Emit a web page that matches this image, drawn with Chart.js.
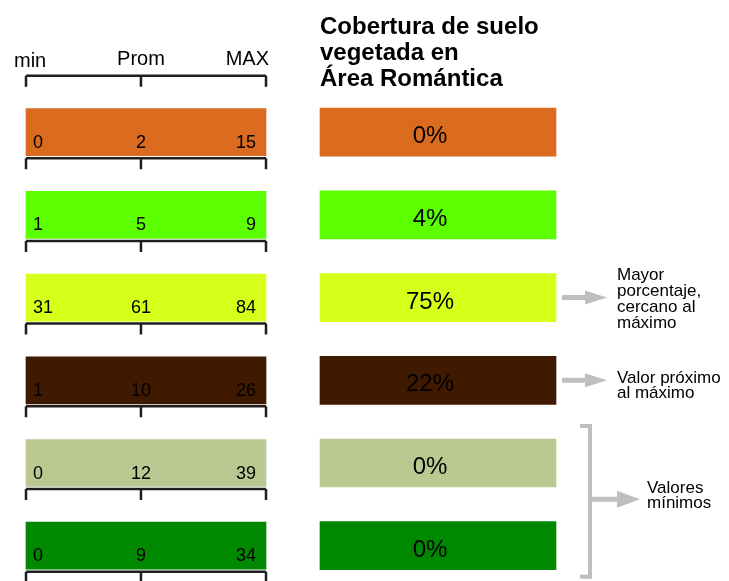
<!DOCTYPE html>
<html>
<head>
<meta charset="utf-8">
<script src="https://cdn.jsdelivr.net/npm/chart.js@4.4.1/dist/chart.umd.min.js"></script>
<style>
  html, body { margin: 0; padding: 0; background: #fff; overflow: hidden; }
  #wrap { position: relative; width: 729px; height: 581px; }
</style>
</head>
<body>
<div id="wrap"><canvas id="chart" width="729" height="581"></canvas></div>
<script>
// one row per land cover class
const rowColors = ['#DB6B1F', '#5CFF00', '#D6FF1A', '#401A00', '#BAC992', '#008800'];
const minVals   = [0, 1, 31, 1, 0, 0];
const promVals  = [2, 5, 61, 10, 12, 9];
const maxVals   = [15, 9, 84, 26, 39, 34];
const coverPct  = [0, 4, 75, 22, 0, 0];

const headLabels = ['min', 'Prom', 'MAX'];
const titleLines = ['Cobertura de suelo', 'vegetada en', 'Área Romántica'];

const notes = [
  { rows: [2], lines: ['Mayor', 'porcentaje,', 'cercano al', 'máximo'] },
  { rows: [3], lines: ['Valor próximo', 'al máximo'] },
  { rows: [4, 5], lines: ['Valores', 'mínimos'] }
];

// layout
const W = 729, H = 581;
const FONT = "'Liberation Sans', Arial, Helvetica, sans-serif";
const RANGE_PX = [26, 266];   // span of the min..MAX bars
const PCT_PX = [320, 556];    // span of the percentage boxes
const ROW0 = 132.2, STEP = 82.7;
const PROM_AT = 0.479;        // Prom tick, fraction of the bar
const PCT_TEXT_AT = 0.466;
const NOTE_SHIFT = [0, 4, -5];
const GREY = '#BFBFBF';
const INK = '#1E1E1E';

function spanScale(px) {
  const w = px[1] - px[0];
  return { type: 'linear', display: false, offset: false, min: -px[0] / w, max: (W - px[0]) / w };
}

function bracket(ctx, xs, yLine, tick) {
  ctx.beginPath();
  ctx.moveTo(xs[0], yLine);
  ctx.lineTo(xs[xs.length - 1], yLine);
  xs.forEach(x => { ctx.moveTo(x, yLine); ctx.lineTo(x, yLine + tick); });
  ctx.stroke();
}

function arrow(ctx, xa, xb, yc, head, half, shaft) {
  ctx.beginPath();
  ctx.moveTo(xa, yc - shaft / 2);
  ctx.lineTo(xb - head, yc - shaft / 2);
  ctx.lineTo(xb - head, yc - half);
  ctx.lineTo(xb, yc);
  ctx.lineTo(xb - head, yc + half);
  ctx.lineTo(xb - head, yc + shaft / 2);
  ctx.lineTo(xa, yc + shaft / 2);
  ctx.closePath();
  ctx.fill();
}

const labelsPlugin = {
  id: 'rangeLabels',
  afterDatasetsDraw(chart) {
    const ctx = chart.ctx;
    const xr = chart.scales.xr, xp = chart.scales.xp, ys = chart.scales.y;
    const x0 = xr.getPixelForValue(0), xm = xr.getPixelForValue(PROM_AT), x1 = xr.getPixelForValue(1);
    const pL = xp.getPixelForValue(0), pR = xp.getPixelForValue(1);
    const bars = chart.getDatasetMeta(0).data;
    const boxes = chart.getDatasetMeta(1).data;
    const top0 = bars[0].y - bars[0].height / 2;

    ctx.save();
    ctx.fillStyle = '#000';
    ctx.textBaseline = 'alphabetic';

    // title
    ctx.font = `bold 24px ${FONT}`;
    ctx.textAlign = 'left';
    titleLines.forEach((t, k) => ctx.fillText(t, pL, 34 + k * 26));

    // header of the range column
    ctx.font = `20px ${FONT}`;
    ctx.textAlign = 'left';
    ctx.fillText(headLabels[0], x0 - 12, top0 - 42);
    ctx.textAlign = 'center';
    ctx.fillText(headLabels[1], xm, top0 - 44);
    ctx.textAlign = 'right';
    ctx.fillText(headLabels[2], x1 + 3, top0 - 44);

    ctx.strokeStyle = INK;
    ctx.lineWidth = 2.5;
    ctx.lineCap = 'butt';
    bracket(ctx, [x0, xm, x1], top0 - 33, 11);

    // min / Prom / MAX inside each bar
    bars.forEach((bar, i) => {
      const bottom = bar.y + bar.height / 2;
      bracket(ctx, [x0, xm, x1], bottom + 2.5, 11);
      ctx.font = `18px ${FONT}`;
      ctx.textAlign = 'left';
      ctx.fillText(String(minVals[i]), x0 + 7, bottom - 8);
      ctx.textAlign = 'center';
      ctx.fillText(String(promVals[i]), xm, bottom - 8);
      ctx.textAlign = 'right';
      ctx.fillText(String(maxVals[i]), x1 - 10, bottom - 8);
    });

    // percentage in each box
    ctx.font = `24px ${FONT}`;
    ctx.textAlign = 'center';
    boxes.forEach((box, i) => {
      ctx.fillText(coverPct[i] + '%', xp.getPixelForValue(PCT_TEXT_AT), box.y + 11);
    });

    // side notes
    ctx.fillStyle = GREY;
    ctx.strokeStyle = GREY;
    notes.forEach((note, n) => {
      let yc, tx;
      if (note.rows.length === 1) {
        yc = ys.getPixelForValue(note.rows[0]);
        arrow(ctx, pR + 6, pR + 51, yc, 22, 7, 5);
        tx = pR + 61;
      } else {
        const a = boxes[note.rows[0]], b = boxes[note.rows[note.rows.length - 1]];
        const yt = a.y - a.height / 2 - 13, yb = b.y + b.height / 2 + 7;
        const bx = pR + 34;
        ctx.lineWidth = 4;
        ctx.lineJoin = 'miter';
        ctx.beginPath();
        ctx.moveTo(bx - 10, yt);
        ctx.lineTo(bx, yt);
        ctx.lineTo(bx, yb);
        ctx.lineTo(bx - 10, yb);
        ctx.stroke();
        yc = (yt + yb) / 2 - 2;
        arrow(ctx, bx + 2, bx + 50, yc, 23, 8.5, 5);
        tx = bx + 57;
      }
      const lh = note.lines.length > 2 ? 16 : 15;
      ctx.save();
      ctx.fillStyle = '#000';
      ctx.font = `17px ${FONT}`;
      ctx.textAlign = 'left';
      const first = yc - (note.lines.length - 1) * lh / 2 + 6 + NOTE_SHIFT[n];
      note.lines.forEach((t, k) => ctx.fillText(t, tx, first + k * lh));
      ctx.restore();
    });
    ctx.restore();
  }
};

new Chart(document.getElementById('chart'), {
  type: 'bar',
  data: {
    datasets: [
      {
        label: 'rango',
        xAxisID: 'xr',
        yAxisID: 'y',
        data: minVals.map((_, i) => ({ x: [0, 1], y: i })),
        backgroundColor: rowColors,
        barThickness: 47,
        grouped: false,
        borderWidth: 0
      },
      {
        label: 'cobertura',
        xAxisID: 'xp',
        yAxisID: 'y',
        data: coverPct.map((_, i) => ({ x: [0, 1], y: i })),
        backgroundColor: rowColors,
        barThickness: 48,
        grouped: false,
        borderWidth: 0
      }
    ]
  },
  options: {
    indexAxis: 'y',
    responsive: false,
    animation: false,
    devicePixelRatio: 1,
    layout: { padding: 0 },
    scales: {
      xr: spanScale(RANGE_PX),
      xp: spanScale(PCT_PX),
      y: { type: 'linear', display: false, offset: false, reverse: true, min: -ROW0 / STEP, max: (H - ROW0) / STEP }
    },
    plugins: { legend: { display: false }, tooltip: { enabled: false }, title: { display: false } }
  },
  plugins: [labelsPlugin]
});
</script>
</body>
</html>
